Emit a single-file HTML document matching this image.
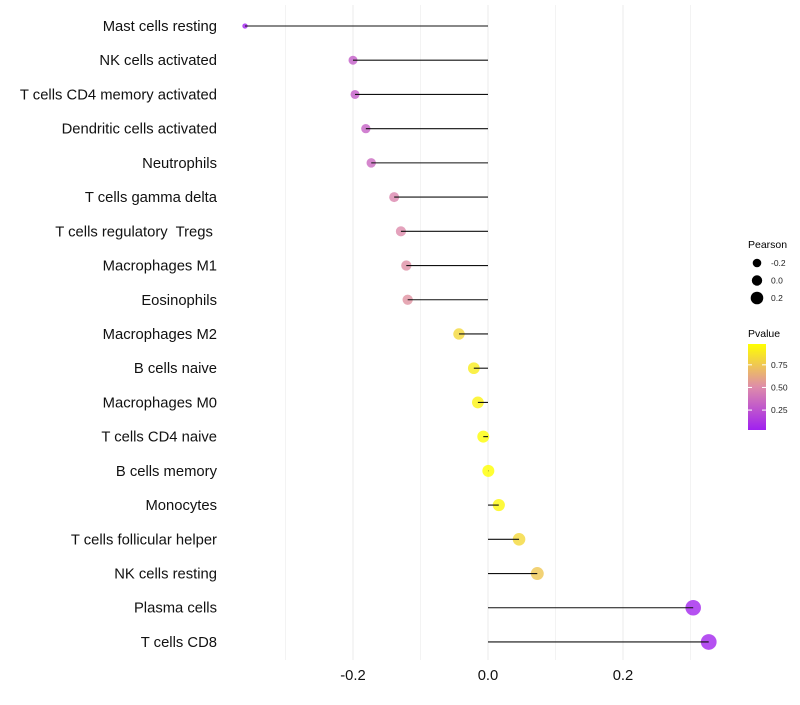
<!DOCTYPE html>
<html><head><meta charset="utf-8"><style>
body{margin:0;background:#fff;font-family:"Liberation Sans",sans-serif}
text{white-space:pre}
</style></head><body>
<svg id="chart" width="800" height="700" xmlns="http://www.w3.org/2000/svg" font-family="Liberation Sans, sans-serif"></svg>
<script>
const categories=["Mast cells resting","NK cells activated","T cells CD4 memory activated","Dendritic cells activated","Neutrophils","T cells gamma delta","T cells regulatory  Tregs ","Macrophages M1","Eosinophils","Macrophages M2","B cells naive","Macrophages M0","T cells CD4 naive","B cells memory","Monocytes","T cells follicular helper","NK cells resting","Plasma cells","T cells CD8"];
const pearson=[-0.36,-0.2,-0.197,-0.181,-0.173,-0.139,-0.129,-0.121,-0.119,-0.043,-0.021,-0.015,-0.007,0.0005,0.016,0.046,0.073,0.304,0.327];
const pvalue=[0.01,0.3,0.3,0.32,0.35,0.48,0.5,0.52,0.53,0.82,0.9,0.93,0.97,0.99,0.95,0.82,0.75,0.05,0.05];
const xTicks=[-0.2,0.0,0.2];
const xTickLabels=["-0.2","0.0","0.2"];
const gridMinor=[-0.3,-0.1,0.1,0.3];
const sizeLegend=[-0.2,0.0,0.2];
const colorTicks=[0.25,0.5,0.75];

const svg=document.getElementById('chart');
const NS="http://www.w3.org/2000/svg";
function el(t,a,p){const e=document.createElementNS(NS,t);for(const k in a)e.setAttribute(k,a[k]);(p||svg).appendChild(e);return e;}
const x=v=>488+v*675;
const y=i=>26+i*34.22;
const rad=v=>Math.sqrt(Math.max(2.5,36+80*v));
const stops=[[0,[160,32,240]],[0.5,[222,140,170]],[1,[255,255,0]]];
function col(p){const t=Math.max(0,Math.min(1,(p-0.03)/0.95));
 const [a0,a]=t<0.5?stops[0]:stops[1];const [b0,b]=t<0.5?stops[1]:stops[2];const u=(t-a0)/(b0-a0);
 return `rgb(${a.map((c,i)=>Math.round(c+(b[i]-c)*u)).join(',')})`;}

const grid=el('g',{});
gridMinor.forEach(v=>el('line',{x1:x(v),x2:x(v),y1:5,y2:660,stroke:'#f3f3f3','stroke-width':1},grid));
xTicks.forEach(v=>el('line',{x1:x(v),x2:x(v),y1:5,y2:660,stroke:'#ebebeb','stroke-width':1},grid));

const xa=el('g',{});
xTicks.forEach((v,i)=>{const t=el('text',{x:x(v),y:680,'text-anchor':'middle','font-size':14.8,fill:'#111'},xa);t.textContent=xTickLabels[i];});
const ya=el('g',{});
categories.forEach((c,i)=>{const t=el('text',{x:217,y:y(i)+5,'text-anchor':'end','font-size':14.8,fill:'#111'},ya);t.textContent=c;});

categories.forEach((c,i)=>{
 const g=el('g',{});
 
 
 el('circle',{cx:x(pearson[i]),cy:y(i),r:rad(pearson[i]),fill:col(pvalue[i]),'fill-opacity':0.8},g);
 el('line',{x1:x(pearson[i]),x2:x(0),y1:y(i),y2:y(i),stroke:'#111','stroke-width':1.1},g);
});

const lg=el('g',{});
let t=el('text',{x:748,y:248,'font-size':10.5,fill:'#000'},lg);t.textContent='Pearson';
sizeLegend.forEach((v,i)=>{const cy=263+i*17.5;el('circle',{cx:757,cy:cy,r:[4.3,5.2,6.3][i],fill:'#000'},lg);
 const tt=el('text',{x:771,y:cy+3,'font-size':8.5,fill:'#222'},lg);tt.textContent=v.toFixed(1);});

const cg=el('g',{});
t=el('text',{x:748,y:337,'font-size':10.5,fill:'#000'},cg);t.textContent='Pvalue';
const defs=el('defs',{});const lgd=el('linearGradient',{id:'pg',x1:0,y1:1,x2:0,y2:0},defs);
stops.forEach(s=>el('stop',{offset:s[0],'stop-color':`rgb(${s[1].join(',')})`},lgd));
el('rect',{x:748,y:344,width:18,height:86,fill:'url(#pg)'},cg);
const cy=v=>430-(v-0.03)/0.95*86;
colorTicks.forEach(v=>{el('line',{x1:748,x2:752,y1:cy(v),y2:cy(v),stroke:'#fff'},cg);el('line',{x1:762,x2:766,y1:cy(v),y2:cy(v),stroke:'#fff'},cg);
 const tt=el('text',{x:771,y:cy(v)+3,'font-size':8.5,fill:'#222'},cg);tt.textContent=v.toFixed(2);});
</script>
</body></html>
